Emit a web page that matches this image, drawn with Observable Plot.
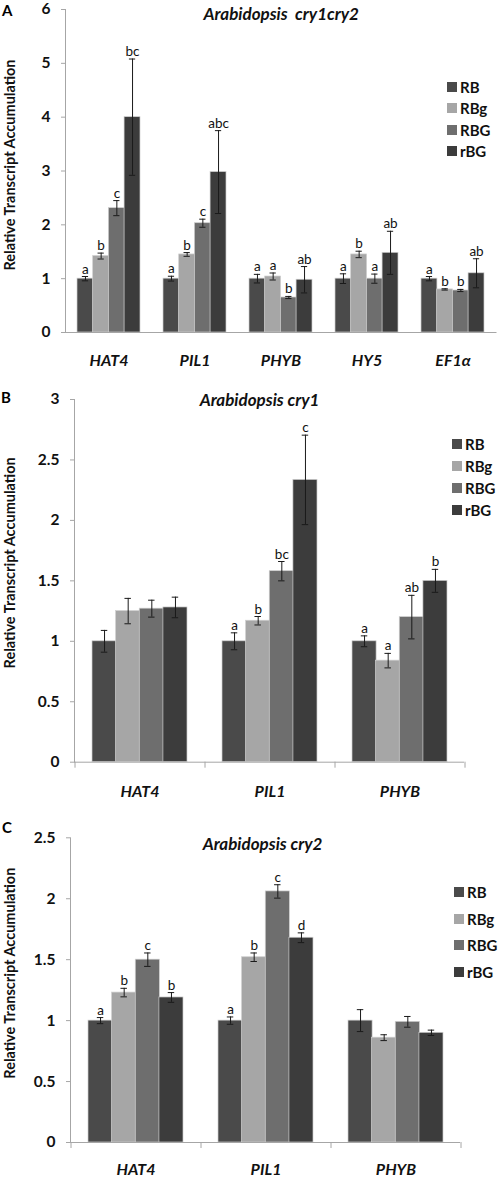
<!DOCTYPE html>
<html><head><meta charset="utf-8">
<script src="https://cdn.jsdelivr.net/npm/d3@7"></script>
<script src="https://cdn.jsdelivr.net/npm/@observablehq/plot@0.6"></script>
<style>
body{margin:0;background:#fff;font-family:Lato,"Open Sans",sans-serif;}
#root{position:relative;width:498px;height:1179px;overflow:hidden;background:#fff}
.panel{position:absolute;left:0;top:0}
.plet{position:absolute;font-weight:bold;font-size:15px;line-height:1;color:#000}
.legend{position:absolute;font-weight:bold;font-size:15px;color:#111}
.legend .row{display:flex;align-items:center;}
.legend .sw{width:10px;height:10px;margin-right:3px}
</style></head>
<body><div id="root"></div>
<script>
const treatments = ["RB","RBg","RBG","rBG"];
const colors = ["#4a4a4a","#a6a6a6","#6e6e6e","#3c3c3c"];

// Panel A: Arabidopsis cry1cry2
const genesA = ["HAT4","PIL1","PHYB","HY5","EF1α"];
const meansA = [[1.00,1.42,2.31,4.00],[1.00,1.45,2.03,2.98],[1.00,1.04,0.65,0.98],[1.00,1.45,1.00,1.48],[1.00,0.80,0.78,1.10]];
const errsA  = [[0.04,0.055,0.14,1.08],[0.045,0.035,0.075,0.77],[0.08,0.065,0.02,0.245],[0.09,0.06,0.085,0.40],[0.04,0.012,0.02,0.27]];
const lettersA = [["a","b","c","bc"],["a","b","c","abc"],["a","a","b","ab"],["a","b","a","ab"],["a","b","b","ab"]];
const ticksA = [0,1,2,3,4,5,6];

// Panel B: Arabidopsis cry1
const genesB = ["HAT4","PIL1","PHYB"];
const meansB = [[1.00,1.25,1.27,1.28],[1.00,1.17,1.58,2.335],[1.00,0.84,1.20,1.50]];
const errsB  = [[0.09,0.105,0.07,0.085],[0.07,0.035,0.08,0.37],[0.045,0.06,0.18,0.095]];
const lettersB = [["","","",""],["a","b","bc","c"],["a","a","ab","b"]];
const ticksB = [0,0.5,1,1.5,2,2.5,3];

// Panel C: Arabidopsis cry2
const genesC = ["HAT4","PIL1","PHYB"];
const meansC = [[1.00,1.23,1.50,1.19],[1.00,1.52,2.06,1.68],[1.00,0.86,0.99,0.90]];
const errsC  = [[0.025,0.035,0.055,0.04],[0.03,0.035,0.055,0.04],[0.09,0.024,0.044,0.022]];
const lettersC = [["a","b","c","b"],["a","b","c","d"],["","","",""]];
const ticksC = [0,0.5,1,1.5,2,2.5];

const yLabel = "Relative Transcript Accumulation";
const gray = "#a6a6a6";
const root = document.getElementById("root");

function panel(cfg){
  const {genes, means, errs, letters, ticks, title, top, height, width, ml, mr, mt, mb,
         titleDx, titleDy, ylabDy, genePad, boundaryTicks, letter, letterPos, legendPos, legendGap} = cfg;
  const pi = 1.5/5.5, po = pi/2;
  const step = (width - ml - mr)/genes.length;
  const w = step*(1-pi)/4;
  const rows = [];
  genes.forEach((g,gi)=>treatments.forEach((t,ti)=>rows.push({gene:g, treatment:t, ti, mean:means[gi][ti], err:errs[gi][ti], letter:letters[gi][ti]})));
  const marks = [];
  treatments.forEach((t,ti)=>{
    const d = rows.filter(r=>r.ti===ti);
    const off = (ti-1.5)*w;
    marks.push(Plot.barY(d,{x:"gene", y1:0, y2:"mean", fill:colors[ti], stroke:"#cfcfcf", strokeWidth:0.7,
      insetLeft: ti*w, insetRight:(3-ti)*w}));
    marks.push(Plot.ruleX(d,{x:"gene", y1:r=>r.mean-r.err, y2:r=>r.mean+r.err, dx:off, stroke:"#1a1a1a", strokeWidth:1}));
    const capIn = {insetLeft: ti*w + w/2 - 3, insetRight:(3-ti)*w + w/2 - 3};
    marks.push(Plot.tickY(d,{x:"gene", y:r=>r.mean+r.err, stroke:"#1a1a1a", strokeWidth:1, ...capIn}));
    marks.push(Plot.tickY(d,{x:"gene", y:r=>r.mean-r.err, stroke:"#1a1a1a", strokeWidth:1, ...capIn}));
    marks.push(Plot.text(d.filter(r=>r.letter),{x:"gene", y:r=>r.mean+r.err, text:"letter", dx:off, dy:-3,
      lineAnchor:"bottom", fontSize:13.5, fill:"#111"}));
  });
  marks.push(Plot.ruleY([0],{stroke:gray}));
  marks.push(Plot.frame({anchor:"left", stroke:gray}));
  if (boundaryTicks){
    marks.push(Plot.ruleX(genes,{x:d=>d, dx:-step/2, y1:0, y2:0, insetBottom:-6, stroke:gray}));
    marks.push(Plot.ruleX([genes[genes.length-1]],{x:d=>d, dx:step/2, y1:0, y2:0, insetBottom:-6, stroke:gray}));
  }
  marks.push(Plot.axisY({ticks, tickSize:4, stroke:gray, tickFormat:()=>"", label:null}));
  marks.push(Plot.axisY({ticks, tickSize:0, tickPadding:15, fontSize:15.5, fontWeight:"bold", fill:"#111", tickFormat:d=>String(d), label:null}));
  marks.push(Plot.axisX({tickSize:0, tickPadding:genePad, fontSize:16, fontWeight:"bold", fontStyle:"italic", fill:"#111", label:null}));
  marks.push(Plot.text([title],{frameAnchor:"top", lineAnchor:"top", dx:titleDx, dy:titleDy, fontSize:17, fontWeight:"bold", fontStyle:"italic", fill:"#111"}));
  marks.push(Plot.text([yLabel],{frameAnchor:"left", rotate:-90, dx:9.5-ml, dy:ylabDy, textAnchor:"middle", lineAnchor:"middle", fontSize:14.5, fontWeight:"bold", fill:"#111"}));

  const chart = Plot.plot({
    width, height, marginLeft:ml, marginRight:mr, marginTop:mt, marginBottom:mb,
    style:{fontFamily:"Lato, 'Open Sans', sans-serif", background:"transparent", overflow:"visible"},
    x:{type:"band", domain:genes, paddingInner:pi, paddingOuter:po},
    y:{domain:[ticks[0], ticks[ticks.length-1]]},
    marks
  });
  const div = document.createElement("div");
  div.className = "panel";
  div.style.top = top+"px";
  div.appendChild(chart);
  root.appendChild(div);

  const pl = document.createElement("div");
  pl.className = "plet"; pl.textContent = letter;
  pl.style.left = letterPos[0]+"px"; pl.style.top = letterPos[1]+"px";
  root.appendChild(pl);

  const lg = document.createElement("div");
  lg.className = "legend";
  lg.style.left = legendPos[0]+"px"; lg.style.top = legendPos[1]+"px";
  treatments.forEach((t,ti)=>{
    const r = document.createElement("div"); r.className="row";
    r.style.height = legendGap+"px";
    const s = document.createElement("span"); s.className="sw"; s.style.background = colors[ti];
    const tx = document.createElement("span"); tx.textContent = t;
    r.appendChild(s); r.appendChild(tx); lg.appendChild(r);
  });
  root.appendChild(lg);
}

panel({genes:genesA, means:meansA, errs:errsA, letters:lettersA, ticks:ticksA,
  title:"Arabidopsis\u00a0 cry1cry2", top:0, height:380, width:498, ml:65, mr:1.5, mt:9, mb:48,
  titleDx:0, titleDy:-2, ylabDy:-6, genePad:22, boundaryTicks:false,
  letter:"A", letterPos:[2,3], legendPos:[447,76.5], legendGap:21.3});

panel({genes:genesB, means:meansB, errs:errsB, letters:lettersB, ticks:ticksB,
  title:"Arabidopsis cry1", top:380, height:430, width:498, ml:74, mr:34, mt:19, mb:48.3,
  titleDx:-10, titleDy:-6, ylabDy:-18, genePad:23, boundaryTicks:true,
  letter:"B", letterPos:[1,390], legendPos:[452,433], legendGap:22});

panel({genes:genesC, means:meansC, errs:errsC, letters:lettersC, ticks:ticksC,
  title:"Arabidopsis cry2", top:810, height:369, width:498, ml:70, mr:38, mt:27.3, mb:37,
  titleDx:-3, titleDy:0, ylabDy:-17, genePad:21, boundaryTicks:true,
  letter:"C", letterPos:[2,820], legendPos:[454,879], legendGap:26.5});
</script></body></html>
